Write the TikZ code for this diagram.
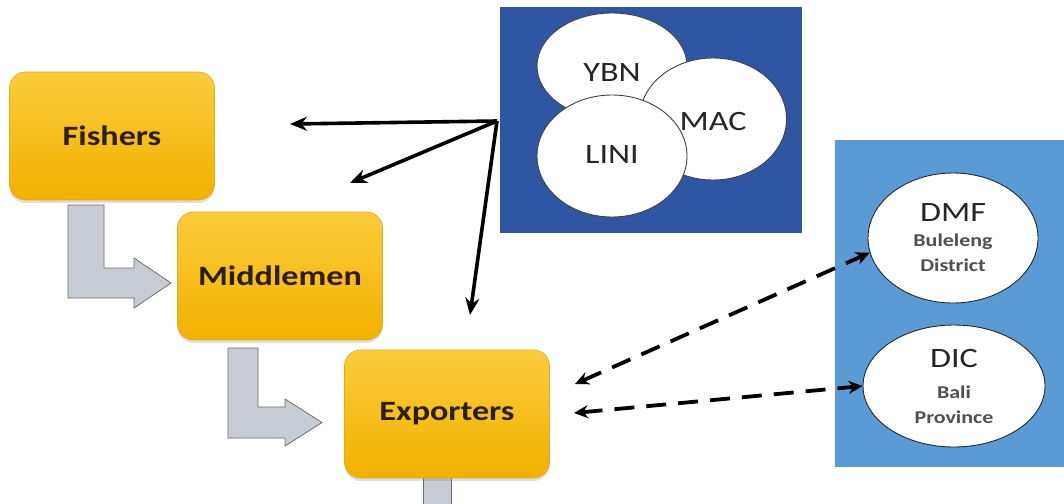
\documentclass[tikz,border=0pt]{standalone}
\usepackage{fontspec}
\usepackage{graphicx}
\setmainfont{Carlito}
\usetikzlibrary{arrows.meta,shapes.geometric,shadows}
\definecolor{goldtop}{RGB}{252,204,60}
\definecolor{goldbot}{RGB}{240,178,0}
\definecolor{goldedge}{RGB}{226,168,30}
\definecolor{boxtext}{RGB}{45,30,5}
\definecolor{arrowfill}{RGB}{200,204,212}
\definecolor{arrowedge}{RGB}{110,110,110}
\definecolor{darkblue}{RGB}{47,86,162}
\definecolor{lightblue}{RGB}{91,155,213}
\definecolor{smalltext}{RGB}{80,80,80}
\newcommand{\widetext}[1]{\scalebox{1.22}[1]{#1}}
\newcommand{\lowtext}[2]{\raisebox{-#1}[0pt][0pt]{\widetext{#2}}}
\begin{document}
\begin{tikzpicture}[x=1pt,y=-1pt,
  actor/.style={rounded corners=16pt, minimum width=205pt, minimum height=128pt,
    top color=goldtop, bottom color=goldbot, draw=goldedge, line width=0.6pt,
    drop shadow={shadow xshift=0pt, shadow yshift=-3pt, opacity=0.25},
    font=\fontsize{28}{30}\selectfont\bfseries, text=boxtext},
  ngo/.style={ellipse, draw=black!75, line width=0.9pt, fill=white, inner sep=0pt,
    font=\fontsize{28}{30}\selectfont, text=black!85},
  gov/.style={ellipse, draw=black!85, line width=0.9pt, fill=white, inner sep=0pt,
    align=center, text=black!85, font=\fontsize{18}{25}\selectfont},
  flow/.style={fill=arrowfill, draw=arrowedge, line width=0.8pt, line join=miter},
  infl/.style={line width=3.6pt, -{Stealth[length=17pt,width=14pt]}},
  coop/.style={line width=3.8pt, dash pattern=on 20pt off 12pt,
    {Stealth[length=14pt,width=13pt]}-{Stealth[length=14pt,width=13pt]}}
]
\useasboundingbox (0,0) rectangle (1064,503);
\fill[white] (0,0) rectangle (1064,503);

% grey flow arrows
\draw[flow] (68,205) -- (104,205) -- (104,268) -- (134,268) -- (134,258) -- (171,283)
  -- (134,308) -- (134,298) -- (68,298) -- cycle;
\draw[flow] (228,348) -- (258,348) -- (258,407) -- (285,407) -- (285,399) -- (322,422.5)
  -- (285,446) -- (285,438) -- (228,438) -- cycle;
\draw[flow] (423,470) rectangle (451,512);

% actor boxes
\node[actor] (fishers) at (112,136) {\widetext{Fishers}};
\node[actor] (middle) at (280,276) {\widetext{Middlemen}};
\node[actor] (export) at (447,414) {\widetext{Exporters}};

% NGO group
\node[fill=darkblue, minimum width=302pt, minimum height=225pt, inner sep=0pt] (ngobox) at (651,120) {};
\node[ngo, minimum width=150pt, minimum height=106pt] (ybn) at (612,66) {\lowtext{16pt}{YBN}};
\node[ngo, minimum width=147pt, minimum height=122pt] (mac) at (713,119) {\lowtext{11pt}{MAC}};
\node[ngo, minimum width=150pt, minimum height=122pt] (lini) at (612,156) {\lowtext{7.5pt}{LINI}};

% government group
\node[fill=lightblue, minimum width=230pt, minimum height=327pt, inner sep=0pt] (govbox) at (950,303.5) {};
\node[gov, minimum width=170pt, minimum height=130pt] (dmf) at (953,238)
  {{\fontsize{28}{25}\selectfont\widetext{DMF}}\\
   {\bfseries\color{smalltext}\widetext{Buleleng}}\\
   {\bfseries\color{smalltext}\widetext{District}}};
\node[gov, minimum width=182pt, minimum height=122pt] (dic) at (954,386)
  {{\fontsize{28}{25}\selectfont\widetext{DIC}}\\[6pt]
   {\bfseries\color{smalltext}\widetext{Bali}}\\
   {\bfseries\color{smalltext}\widetext{Province}}};

% influence arrows
\coordinate (src) at (497,121);
\coordinate (tf) at (290,124);
\coordinate (tm) at (350,183);
\coordinate (te) at (470,315);
\draw[infl] (src) -- (tf);
\draw[infl] (src) -- (tm);
\draw[infl] (src) -- (te);

% cooperation arrows
\coordinate (e1) at (575,384);
\coordinate (e2) at (574,413);
\draw[coop] (e1) -- (dmf.190);
\draw[coop] (e2) -- (dic.west);
\end{tikzpicture}
\end{document}
